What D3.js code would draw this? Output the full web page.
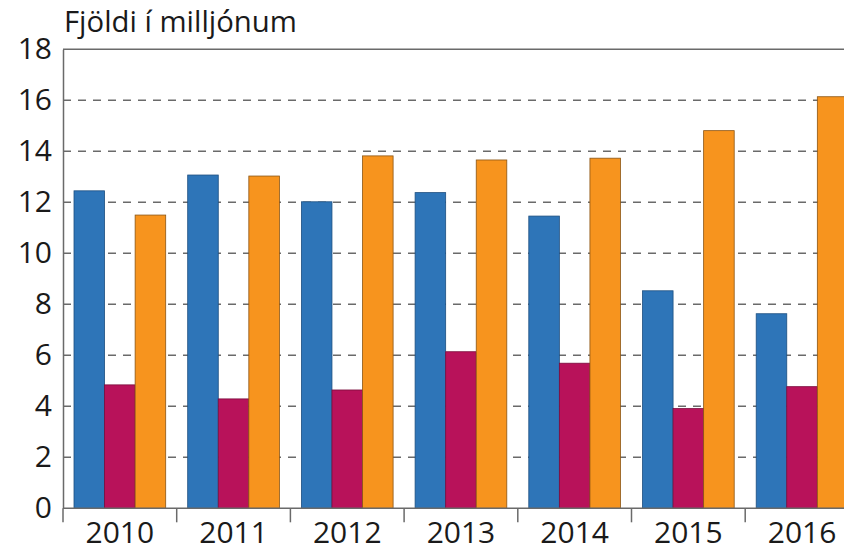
<!DOCTYPE html>
<html><head><meta charset="utf-8">
<script src="https://cdn.jsdelivr.net/npm/d3@7"></script>
<style>body{margin:0;background:#fff;} svg{display:block;font-family:"Open Sans",sans-serif;}</style>
</head><body>
<script>
const years = ["2010","2011","2012","2013","2014","2015","2016"];
const seriesA = [12.45, 13.07, 12.02, 12.38, 11.46, 8.53, 7.63];
const seriesB = [4.84, 4.29, 4.64, 6.14, 5.69, 3.91, 4.77];
const seriesC = [11.50, 13.03, 13.82, 13.66, 13.73, 14.81, 16.14];
const yTicks = [0, 2, 4, 6, 8, 10, 12, 14, 16, 18];
const titleText = "Fjöldi í milljónum";
const colors = ["#2e75b8", "#b8125a", "#f7941e"];
const strokes = ["#1d4f80", "#7a0c3c", "#8a5514"];

const W = 844, H = 554;
const m = {left: 63, top: 49.3, bottom: 508.3};
const bandW = 113.7;
const svg = d3.select("body").append("svg").attr("width", W).attr("height", H);

const x = d3.scaleBand().domain(years).range([m.left, m.left + bandW * years.length]).paddingInner(0).paddingOuter(0);
const y = d3.scaleLinear().domain([0, 18]).range([m.bottom, m.top]);
const groupPad = 11;
const x1 = d3.scaleBand().domain([0,1,2]).range([groupPad, bandW - groupPad]).padding(0);

// gridlines
svg.append("g").selectAll("line").data(yTicks.filter(d => d > 0 && d < 18)).join("line")
  .attr("x1", m.left).attr("x2", W).attr("y1", d => y(d)).attr("y2", d => y(d))
  .attr("stroke", "#6a6a6a").attr("stroke-width", 1.5).attr("stroke-dasharray", "8,7");
// top line
svg.append("line").attr("x1", m.left).attr("x2", W).attr("y1", y(18)).attr("y2", y(18))
  .attr("stroke", "#6a6a6a").attr("stroke-width", 1.5);

const data = years.map((yr, i) => ({yr, vals: [seriesA[i], seriesB[i], seriesC[i]]}));
const g = svg.append("g");
data.forEach(d => {
  d.vals.forEach((v, k) => {
    g.append("rect")
      .attr("x", x(d.yr) + x1(k)).attr("width", x1.bandwidth())
      .attr("y", y(v)).attr("height", y(0) - y(v))
      .attr("fill", colors[k]).attr("stroke", strokes[k]).attr("stroke-width", 0.8);
  });
});

// y axis
const yAxis = svg.append("g").attr("transform", `translate(${m.left},0)`)
  .call(d3.axisLeft(y).tickValues(yTicks).tickSize(0).tickPadding(11));
yAxis.select(".domain").attr("stroke", "#6a6a6a").attr("stroke-width", 1.5);
yAxis.selectAll("text").attr("font-size", 30).attr("fill", "#1a1a1a").attr("font-family", "Open Sans");

// x axis
const xAxis = svg.append("g").attr("transform", `translate(0,${m.bottom})`)
  .call(d3.axisBottom(x).tickSize(0).tickPadding(13));
xAxis.select(".domain").remove();
svg.append("line").attr("x1", m.left).attr("x2", W).attr("y1", m.bottom).attr("y2", m.bottom)
  .attr("stroke", "#6a6a6a").attr("stroke-width", 1.5);
xAxis.selectAll("text").attr("font-size", 30).attr("fill", "#1a1a1a").attr("font-family", "Open Sans");
const sepTicks = d3.range(years.length).map(i => m.left + i * bandW);
svg.append("g").selectAll("line").data(sepTicks).join("line")
  .attr("x1", d => d).attr("x2", d => d).attr("y1", m.bottom).attr("y2", m.bottom + 14)
  .attr("stroke", "#6a6a6a").attr("stroke-width", 1.5);

svg.append("text").attr("x", 64).attr("y", 31.5).text(titleText)
  .attr("font-size", 29.3).attr("fill", "#1a1a1a");
</script>
</body></html>
